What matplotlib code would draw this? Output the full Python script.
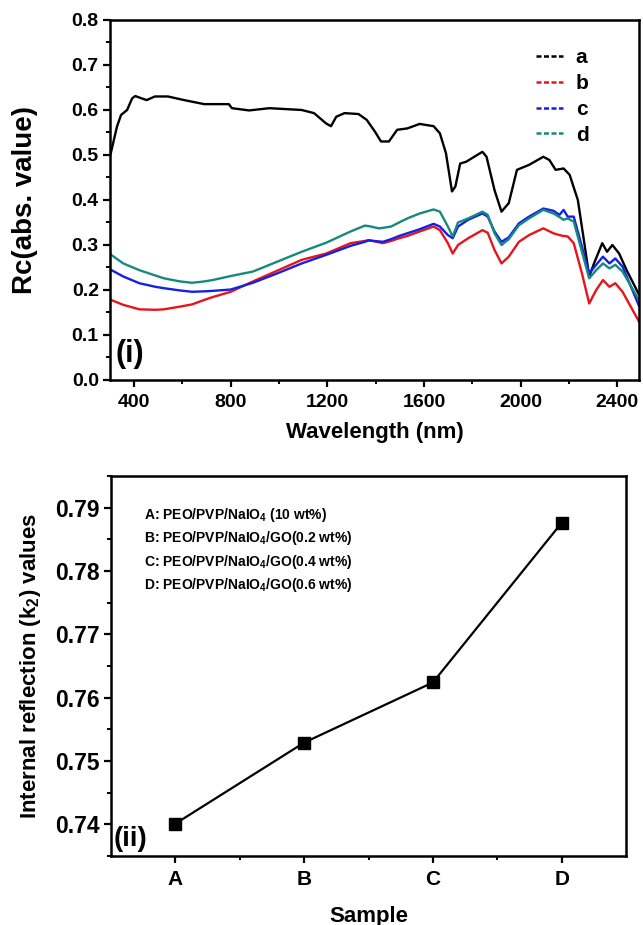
import matplotlib
matplotlib.use("Agg")
import matplotlib.pyplot as plt
from matplotlib.ticker import MultipleLocator, FixedLocator

plt.rcParams['font.family'] = ['Liberation Sans', 'DejaVu Sans']
plt.rcParams['font.weight'] = 'bold'
plt.rcParams['mathtext.fontset'] = 'custom'
plt.rcParams['mathtext.rm'] = 'Liberation Sans:bold'
plt.rcParams['mathtext.bf'] = 'Liberation Sans:bold'
plt.rcParams['mathtext.default'] = 'bf'

# ---- panel (i): Rc spectra ----
wl_a = [300, 329, 346, 371, 392, 405, 430, 452, 486, 540, 607, 690, 792, 805, 876, 960,
        1094, 1145, 1195, 1215, 1237, 1271, 1329, 1363, 1397, 1422, 1455, 1489, 1531,
        1582, 1640, 1666, 1691, 1716, 1730, 1750, 1775, 1808, 1842, 1859, 1892, 1921,
        1951, 1985, 2035, 2094, 2119, 2145, 2178, 2203, 2237, 2262, 2284, 2304, 2338,
        2358, 2380, 2408, 2439, 2490]
rc_a = [0.496, 0.563, 0.589, 0.600, 0.626, 0.631, 0.626, 0.622, 0.630, 0.630, 0.622,
        0.613, 0.613, 0.604, 0.599, 0.604, 0.600, 0.593, 0.570, 0.564, 0.585, 0.593,
        0.591, 0.578, 0.552, 0.530, 0.530, 0.556, 0.559, 0.569, 0.564, 0.548, 0.504,
        0.419, 0.430, 0.481, 0.485, 0.496, 0.507, 0.496, 0.422, 0.374, 0.393, 0.467,
        0.478, 0.496, 0.489, 0.467, 0.470, 0.456, 0.400, 0.311, 0.230, 0.259, 0.304,
        0.285, 0.300, 0.281, 0.244, 0.190]

wl_bcd = [300, 355, 422, 489, 523, 590, 640, 691, 724, 800, 892, 993, 1094, 1195, 1296,
          1355, 1371, 1413, 1430, 1464, 1497, 1531, 1582, 1640, 1666, 1699, 1719, 1741,
          1783, 1842, 1864, 1892, 1921, 1951, 1993, 2035, 2094, 2136, 2161, 2178, 2195,
          2220, 2254, 2284, 2313, 2341, 2368, 2392, 2422, 2490]
rc_b = [0.179, 0.167, 0.157, 0.156, 0.157, 0.163, 0.168, 0.178, 0.184, 0.196, 0.219,
        0.243, 0.267, 0.281, 0.304, 0.309, 0.311, 0.306, 0.304, 0.309, 0.315, 0.320,
        0.330, 0.341, 0.333, 0.304, 0.281, 0.300, 0.315, 0.333, 0.327, 0.289, 0.259,
        0.274, 0.307, 0.322, 0.337, 0.326, 0.322, 0.320, 0.319, 0.304, 0.237, 0.170,
        0.200, 0.222, 0.207, 0.215, 0.196, 0.130]
rc_c = [0.246, 0.230, 0.215, 0.207, 0.204, 0.199, 0.196, 0.197, 0.198, 0.201, 0.216,
        0.237, 0.259, 0.278, 0.298, 0.307, 0.310, 0.308, 0.307, 0.313, 0.320, 0.326,
        0.335, 0.347, 0.341, 0.322, 0.315, 0.341, 0.356, 0.370, 0.363, 0.330, 0.307,
        0.317, 0.348, 0.363, 0.381, 0.376, 0.367, 0.378, 0.363, 0.363, 0.296, 0.237,
        0.256, 0.274, 0.259, 0.270, 0.252, 0.165]
rc_d = [0.280, 0.259, 0.244, 0.232, 0.226, 0.219, 0.216, 0.219, 0.222, 0.231, 0.241,
        0.263, 0.285, 0.305, 0.330, 0.343, 0.342, 0.337, 0.338, 0.341, 0.350, 0.359,
        0.370, 0.379, 0.374, 0.341, 0.319, 0.350, 0.359, 0.374, 0.367, 0.326, 0.300,
        0.313, 0.344, 0.359, 0.378, 0.370, 0.362, 0.356, 0.359, 0.352, 0.285, 0.226,
        0.244, 0.259, 0.248, 0.256, 0.241, 0.178]

series_labels = ['a', 'b', 'c', 'd']
series_colors = ['black', '#e8141c', '#1420e6', '#16897f']

# ---- panel (ii): internal reflection k2 ----
samples = ['A', 'B', 'C', 'D']
k2 = [0.7401, 0.7529, 0.7624, 0.7876]
sample_desc = [r'A: PEO/PVP/NaIO$_4$ (10 wt%)',
               r'B: PEO/PVP/NaIO$_4$/GO(0.2 wt%)',
               r'C: PEO/PVP/NaIO$_4$/GO(0.4 wt%)',
               r'D: PEO/PVP/NaIO$_4$/GO(0.6 wt%)']

fig = plt.figure(figsize=(6.43, 9.25), dpi=100)

ax1 = fig.add_axes([0.171, 0.5892, 0.8227, 0.3892])
curves = [(wl_a, rc_a), (wl_bcd, rc_b), (wl_bcd, rc_c), (wl_bcd, rc_d)]
for (x, y), lab, col in zip(curves, series_labels, series_colors):
    ax1.plot(x, y, color=col, lw=1.7, label=lab)
ax1.set_xlim(300, 2490)
ax1.set_ylim(0.0, 0.8)
ax1.xaxis.set_major_locator(MultipleLocator(400))
ax1.xaxis.set_minor_locator(MultipleLocator(200))
ax1.yaxis.set_major_locator(MultipleLocator(0.1))
ax1.yaxis.set_minor_locator(MultipleLocator(0.05))
ax1.set_xlabel('Wavelength (nm)', fontsize=16, fontweight='bold', labelpad=8)
ax1.set_ylabel('Rc(abs. value)', fontsize=20, fontweight='bold', labelpad=24)
ax1.text(0.01, 0.05, '(i)', transform=ax1.transAxes, fontsize=22, fontweight='bold')
leg = ax1.legend(loc='upper left', bbox_to_anchor=(0.79, 0.945), frameon=False,
                 fontsize=15, handlelength=1.3, handletextpad=0.6, labelspacing=0.33,
                 borderaxespad=0)
for h in leg.get_lines():
    h.set_linestyle((0, (2, 1)))
    h.set_linewidth(1.8)

ax2 = fig.add_axes([0.1726, 0.0746, 0.801, 0.4108])
xs = list(range(len(samples)))
ax2.plot(xs, k2, color='black', lw=1.6, marker='s', markersize=9)
ax2.set_xlim(-0.5, 3.5)
ax2.set_ylim(0.735, 0.795)
ax2.set_xticks(xs)
ax2.set_xticklabels(samples)
ax2.xaxis.set_minor_locator(FixedLocator([0.5, 1.5, 2.5]))
ax2.yaxis.set_major_locator(MultipleLocator(0.01))
ax2.yaxis.set_minor_locator(MultipleLocator(0.005))
ax2.set_xlabel('Sample', fontsize=16, fontweight='bold', labelpad=12)
ax2.set_ylabel(r'Internal reflection (k$_2$) values', fontsize=16, fontweight='bold',
               labelpad=9)
ax2.text(0.005, 0.025, '(ii)', transform=ax2.transAxes, fontsize=20, fontweight='bold')
for i, s in enumerate(sample_desc):
    ax2.text(0.065, 0.898 - i * 0.062, s, transform=ax2.transAxes, fontsize=10,
             fontweight='bold', va='center')

for ax, fs in ((ax1, 14), (ax2, 15)):
    for sp in ax.spines.values():
        sp.set_linewidth(1.8)
    ax.tick_params(which='major', direction='out', length=5, width=1.6, labelsize=fs,
                   pad=5)
    ax.tick_params(which='minor', direction='out', length=3, width=1.4)
    for lbl in ax.get_xticklabels() + ax.get_yticklabels():
        lbl.set_fontweight('bold')
ax1.tick_params(axis='y', which='major', pad=3)
ax2.tick_params(axis='y', which='major', labelsize=16.5, pad=3)

fig.savefig('out.png', dpi=100)
